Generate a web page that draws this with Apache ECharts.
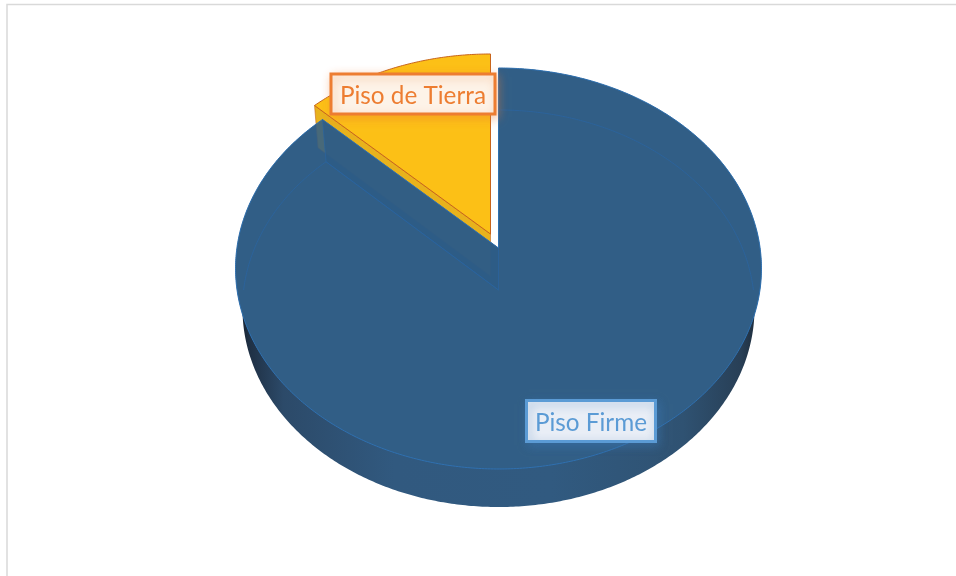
<!DOCTYPE html>
<html><head><meta charset="utf-8">
<style>html,body{margin:0;padding:0;background:#fff}#c{width:956px;height:576px}</style>
<script src="https://cdn.jsdelivr.net/npm/echarts@6/dist/echarts.min.js"></script>
</head><body><div id="c"></div>
<script>
const categories = ['Piso Firme', 'Piso de Tierra'];
const values = [87.2, 12.8];

const total = values.reduce((a, b) => a + b, 0);
const TWO = Math.PI * 2;
// perspective disc: centre of the pie, half sizes, foreshortening
const TOP = {cx: 498.5, cy: 248, a: 261.6, b: 198.4, k: 0.1022};
const BOT = {cx: 498.5, cy: 290, a: 254.9, b: 196.8, k: 0.0932};
const EXPLODE = [-8, -14];
const BLUE = '#315e86', EDGE = '#2f70b0', YEL = '#fcc016', YEL_SIDE = '#e8b21c', YEL_EDGE = '#c8641a';

function pt(d, t, off) {
  const u = Math.sin(t), v = Math.cos(t), w = 1 + d.k * v;
  return [d.cx + d.a * u / w + (off ? off[0] : 0), d.cy - d.b * v / w + (off ? off[1] : 0)];
}
function arc(d, t0, t1, off) {
  const n = Math.max(2, Math.ceil(Math.abs(t1 - t0) / 0.01)), r = [];
  for (let i = 0; i <= n; i++) r.push(pt(d, t0 + (t1 - t0) * i / n, off));
  return r;
}
function apex(d, off) { return [d.cx + (off ? off[0] : 0), d.cy + (off ? off[1] : 0)]; }
function sector(d, t0, t1, off) { return [apex(d, off)].concat(arc(d, t0, t1, off)); }
function poly(points, style) { return {type: 'polygon', shape: {points}, style}; }
function line(points, stroke, w, op) {
  return {type: 'polyline', shape: {points}, style: {fill: 'none', stroke, lineWidth: w || 1, opacity: op == null ? 1 : op}};
}
const sideFill = {type: 'linear', x: 236, y: 0, x2: 762, y2: 0, global: true, colorStops: [
  {offset: 0, color: '#121b26'}, {offset: 0.025, color: '#1f3044'}, {offset: 0.09, color: '#2c4a69'},
  {offset: 0.3, color: '#31597f'}, {offset: 0.6, color: '#315a80'}, {offset: 0.85, color: '#2f5272'},
  {offset: 0.96, color: '#283f56'}, {offset: 1, color: '#1a2633'}]};

function wallPts(end, off) {
  return [apex(TOP, off), pt(TOP, end, off), pt(BOT, end, off), apex(BOT, off)];
}
// layer 1: opaque body of the large slice
function firmeBase(params, api) {
  const end = api.value(0) / total * TWO;
  return {type: 'group', children: [
    poly(sector(BOT, 0, end), {fill: sideFill}),
    poly(wallPts(end), {fill: '#b8b175'}),
    poly(sector(TOP, 0, end), {fill: BLUE})
  ]};
}
// layer 2: the pulled-out slice
function tierra(params, api) {
  const start = TWO - api.value(0) / total * TWO;
  return {type: 'group', children: [
    poly(wallPts(start, EXPLODE), {fill: YEL_SIDE, stroke: YEL_EDGE, lineWidth: 0.6}),
    poly(sector(TOP, start, TWO, EXPLODE), {fill: YEL, stroke: YEL_EDGE, lineWidth: 1})
  ]};
}
// layer 3: translucent faces and rim lines of the large slice
function firmeOver(params, api) {
  const end = api.value(0) / total * TWO;
  const quarter = Math.PI / 2;
  return {type: 'group', children: [
    poly(wallPts(end), {fill: 'rgba(17,71,133,0.82)'}),
    poly(sector(TOP, 0, end), {fill: 'rgba(49,94,134,0.88)', stroke: EDGE, lineWidth: 1}),
    line(arc(BOT, 0, quarter), '#2a64a0', 1, 0.8),
    line(arc(BOT, TWO - quarter, end), '#2a64a0', 1, 0.8),
    line(wallPts(end).slice(2).concat([pt(BOT, end)]), '#2a64a0', 1, 0.7),
    line([apex(TOP), apex(BOT)], '#2a64a0', 1, 0.7),
    line([pt(TOP, end), pt(BOT, end)], '#2a64a0', 1, 0.7)
  ]};
}
const boxes = [
  {x: 526.5, y: 400.5, w: 129, h: 41, stroke: '#5b9bd5', fill: '#e9eef6', color: '#5b9bd5', glow: 'rgba(60,120,180,0.45)'},
  {x: 331, y: 74, w: 164, h: 40, stroke: '#ed7d31', fill: '#fdf3e8', color: '#ed7d31', glow: 'rgba(237,125,49,0.4)'}
];
function labelItem(params, api) {
  const b = boxes[params.dataIndex];
  return {type: 'group', children: [
    {type: 'rect', shape: {x: b.x, y: b.y, width: b.w, height: b.h},
     style: {fill: b.fill, stroke: b.stroke, lineWidth: 3, shadowBlur: 10, shadowColor: b.glow, shadowOffsetX: 2, shadowOffsetY: 3}},
    {type: 'text', x: b.x + b.w / 2, y: b.y + b.h / 2 + 2,
     style: {text: categories[params.dataIndex], fill: b.color, font: '24.3px Lato', align: 'center', verticalAlign: 'middle'}}
  ]};
}
const common = {type: 'custom', coordinateSystem: 'none', silent: true, animation: false};
const chart = echarts.init(document.getElementById('c'), null, {renderer: 'canvas'});
chart.setOption({
  backgroundColor: '#ffffff',
  animation: false,
  tooltip: {show: false},
  graphic: [{type: 'rect', shape: {x: 7, y: 4.5, width: 1200, height: 800},
             style: {fill: 'none', stroke: '#d9d9d9', lineWidth: 1.5}, silent: true}],
  series: [
    Object.assign({}, common, {name: categories[0], z: 1, data: [[values[0]]], renderItem: firmeBase}),
    Object.assign({}, common, {name: categories[1], z: 2, data: [[values[1]]], renderItem: tierra}),
    Object.assign({}, common, {name: categories[0], z: 3, data: [[values[0]]], renderItem: firmeOver}),
    Object.assign({}, common, {name: 'labels', z: 4, data: values.map(v => [v]), renderItem: labelItem})
  ]
});
</script></body></html>
